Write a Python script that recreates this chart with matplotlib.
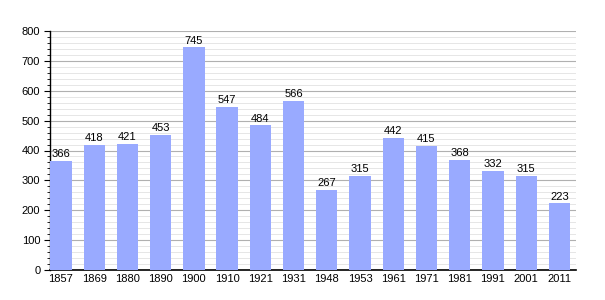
import matplotlib.pyplot as plt
import numpy as np
from matplotlib.ticker import MultipleLocator

plt.rcParams['font.family'] = ['Liberation Sans', 'DejaVu Sans']

years = ["1857", "1869", "1880", "1890", "1900", "1910", "1921", "1931",
         "1948", "1953", "1961", "1971", "1981", "1991", "2001", "2011"]
population = [366, 418, 421, 453, 745, 547, 484, 566,
              267, 315, 442, 415, 368, 332, 315, 223]

fig = plt.figure(figsize=(6.05, 3.0), dpi=100)
ax = fig.add_axes([50/605, 30/300, 526/605, 239/300])

x = np.arange(len(years))
ax.bar(x, population, width=0.64, color="#99aaff", zorder=3)
for xi, v in zip(x, population):
    ax.text(xi, v + 6, str(v), ha="center", va="bottom", fontsize=8, zorder=4)

ax.set_xlim(-0.64/2 - 0.01, len(years) - 1 + 0.5)
ax.set_ylim(0, 800)
ax.set_xticks(x)
ax.set_xticklabels(years, fontsize=8)
ax.tick_params(axis="x", length=0, pad=3)
ax.yaxis.set_major_locator(MultipleLocator(100))
ax.yaxis.set_minor_locator(MultipleLocator(20))
ax.tick_params(axis="y", which="major", length=4, labelsize=8, pad=3)
ax.tick_params(axis="y", which="minor", length=2.5)
ax.grid(axis="y", which="major", color="#b0b0b0", linewidth=0.8, zorder=0)
ax.grid(axis="y", which="minor", color="#e2e2e2", linewidth=0.6, zorder=0)
for s in ["top", "right"]:
    ax.spines[s].set_visible(False)
ax.spines["left"].set_linewidth(1.0)
ax.spines["bottom"].set_linewidth(1.2)

fig.savefig("out.png", dpi=100)
